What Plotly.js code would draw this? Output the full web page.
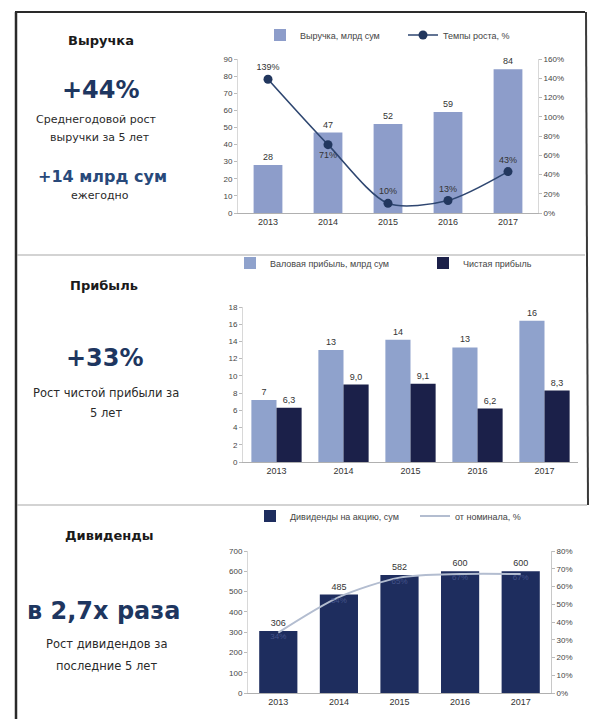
<!DOCTYPE html>
<html>
<head>
<meta charset="utf-8">
<script src="https://cdn.plot.ly/plotly-3.0.1.min.js"></script>
<style>
html,body{margin:0;padding:0;background:#fff;}
#chart{width:596px;height:719px;}
</style>
</head>
<body>
<div id="chart"></div>
<script>
// ---- data ----
const years = ['2013', '2014', '2015', '2016', '2017'];
const revenue = [28, 47, 52, 59, 84];               // Выручка, млрд сум
const revenueGrowth = [139, 71, 10, 13, 43];        // Темпы роста, %
const grossProfit = [7.2, 13.0, 14.2, 13.3, 16.4];  // Валовая прибыль, млрд сум
const netProfit = [6.3, 9.0, 9.1, 6.2, 8.3];        // Чистая прибыль
const dividends = [306, 485, 582, 600, 600];        // Дивиденды на акцию, сум
const divPctPar = [34, 54, 65, 67, 67];             // от номинала, %

const W = 596, H = 719;
const px = v => v / W;
const py = v => 1 - v / H;

const FONT = 'Liberation Sans, Arial, sans-serif';
const WIDE = 'DejaVu Sans, Verdana, sans-serif';
const tickFont = {family: FONT, size: 8, color: '#444'};
const yearFont = {family: FONT, size: 9, color: '#333'};
const labFont = {family: FONT, size: 9, color: '#333'};

const traces = [
  {type: 'bar', x: years, y: revenue, xaxis: 'x', yaxis: 'y', name: 'Выручка, млрд сум',
   marker: {color: '#8d9dca'}, width: 0.48, text: revenue.map(String), textposition: 'outside',
   textfont: labFont, cliponaxis: false, legend: 'legend'},
  {type: 'scatter', mode: 'lines+markers+text', x: years, y: revenueGrowth, xaxis: 'x', yaxis: 'y2',
   name: 'Темпы роста, %', line: {color: '#2e4670', width: 1.6, shape: 'spline', smoothing: 0.8},
   marker: {color: '#22375e', size: 9}, texttemplate: '%{y}',
   textposition: ['top center', 'bottom center', 'top center', 'top center', 'top center'],
   textfont: labFont, cliponaxis: false, legend: 'legend2'},

  {type: 'bar', x: years, y: grossProfit, xaxis: 'x2', yaxis: 'y3', name: 'Валовая прибыль, млрд сум',
   marker: {color: '#8fa2cc'}, texttemplate: '%{y:.0f}', textposition: 'outside',
   textfont: labFont, cliponaxis: false, legend: 'legend3'},
  {type: 'bar', x: years, y: netProfit, xaxis: 'x2', yaxis: 'y3', name: 'Чистая прибыль',
   marker: {color: '#1b2049'}, texttemplate: '%{y:.1f}', textposition: 'outside',
   textfont: labFont, cliponaxis: false, legend: 'legend4'},

  {type: 'bar', x: years, y: dividends, xaxis: 'x3', yaxis: 'y4', name: 'Дивиденды на акцию, сум',
   marker: {color: '#1e2d5e'}, width: 0.63, text: dividends.map(String), textposition: 'outside',
   textfont: labFont, cliponaxis: false, legend: 'legend5'},
  {type: 'scatter', mode: 'lines+text', x: years, y: divPctPar, xaxis: 'x3', yaxis: 'y5',
   name: 'от номинала, %', line: {color: '#b3bdd0', width: 2, shape: 'spline', smoothing: 0.8},
   texttemplate: '%{y}', textposition: 'bottom center',
   textfont: {family: FONT, size: 8, color: '#44538a'}, cliponaxis: false, legend: 'legend6'}
];

const xCommon = {type: 'category', showgrid: false, zeroline: false, showline: true,
  linecolor: '#b0b0b0', linewidth: 1, ticks: '', tickfont: yearFont, fixedrange: true};
const yCommon = {showgrid: false, zeroline: false, showline: true, linecolor: '#d8d8d8',
  ticks: 'outside', ticklen: 3, tickcolor: '#bbb', tickfont: tickFont, fixedrange: true};

const leg = (textStartX, yPix) => ({orientation: 'h', xanchor: 'left', yanchor: 'middle',
  x: px(textStartX - 40), y: py(yPix),
  font: {family: FONT, size: 9, color: '#444'}, bgcolor: 'rgba(0,0,0,0)', itemwidth: 30});

const ann = (x, y, text, size, color, bold, family) => ({
  xref: 'paper', yref: 'paper', x: px(x), y: py(y), text: text, showarrow: false,
  xanchor: 'center', yanchor: 'middle',
  font: {family: family || WIDE, size: size, color: color, weight: bold ? 'bold' : 'normal'}
});

const annotations = [
  ann(101, 41, 'Выручка', 13, '#1a1a1a', true),
  ann(101, 90, '+44%', 24, '#1e3660', true),
  ann(96, 119, 'Среднегодовой рост', 11, '#2a2a2a', false),
  ann(100, 137, 'выручки за 5 лет', 11, '#2a2a2a', false),
  ann(102, 177, '+14 млрд сум', 16, '#28497a', true),
  ann(100, 195, 'ежегодно', 11, '#2a2a2a', false),

  ann(104, 285, 'Прибыль', 13, '#1a1a1a', true),
  ann(105, 358, '+33%', 24, '#1e3660', true),
  ann(106, 393, 'Рост чистой прибыли за', 11.5, '#2a2a2a', false),
  ann(106, 413, '5 лет', 11.5, '#2a2a2a', false),

  ann(109, 535, 'Дивиденды', 13, '#1a1a1a', true),
  ann(103, 611, 'в 2,7х раза', 24, '#1e3660', true),
  ann(106, 644, 'Рост дивидендов за', 11.5, '#2a2a2a', false),
  ann(106, 666, 'последние 5 лет', 11.5, '#2a2a2a', false)
];

const line = (x0, y0, x1, y1, color, w) => ({type: 'line', xref: 'paper', yref: 'paper',
  x0: px(x0), y0: py(y0), x1: px(x1), y1: py(y1), line: {color: color, width: w}, layer: 'above'});

const shapes = [
  line(15, 12, 585, 12, '#2a2a2a', 2),
  line(16, 12, 16, 719, '#2a2a2a', 2.5),
  line(586, 12, 588, 505, '#3a3a3a', 2),
  line(17, 255, 585, 255, '#a8a8a8', 1.2),
  line(17, 505, 587, 505, '#a8a8a8', 1.2)
];

const layout = {
  width: W, height: H, margin: {l: 0, r: 0, t: 0, b: 0},
  paper_bgcolor: '#ffffff', plot_bgcolor: 'rgba(0,0,0,0)',
  font: {family: FONT, color: '#333'},
  separators: ', ',
  barmode: 'group', bargap: 0.25, bargroupgap: 0,
  hovermode: false,

  xaxis: Object.assign({}, xCommon, {domain: [px(238), px(538)], anchor: 'y'}),
  yaxis: Object.assign({}, yCommon, {domain: [py(213), py(59)], range: [0, 90], dtick: 10, anchor: 'x'}),
  yaxis2: Object.assign({}, yCommon, {overlaying: 'y', side: 'right', anchor: 'x', range: [0, 160],
    dtick: 20, ticksuffix: '%'}),

  xaxis2: Object.assign({}, xCommon, {domain: [px(243), px(578)], anchor: 'y3'}),
  yaxis3: Object.assign({}, yCommon, {domain: [py(462), py(307)], range: [0, 18], dtick: 2, anchor: 'x2'}),

  xaxis3: Object.assign({}, xCommon, {domain: [px(248), px(551)], anchor: 'y4'}),
  yaxis4: Object.assign({}, yCommon, {domain: [py(693), py(551)], range: [0, 700], dtick: 100, anchor: 'x3'}),
  yaxis5: Object.assign({}, yCommon, {overlaying: 'y4', side: 'right', anchor: 'x3', range: [0, 80],
    dtick: 10, ticksuffix: '%', showline: true, linecolor: '#c8c8c8'}),

  legend: leg(300, 35),
  legend2: leg(443, 35),
  legend3: leg(270, 263),
  legend4: leg(463, 263),
  legend5: leg(290, 516),
  legend6: leg(455, 516),

  annotations: annotations,
  shapes: shapes,
  showlegend: true
};

Plotly.newPlot('chart', traces, layout, {displayModeBar: false, staticPlot: true});
</script>
</body>
</html>
